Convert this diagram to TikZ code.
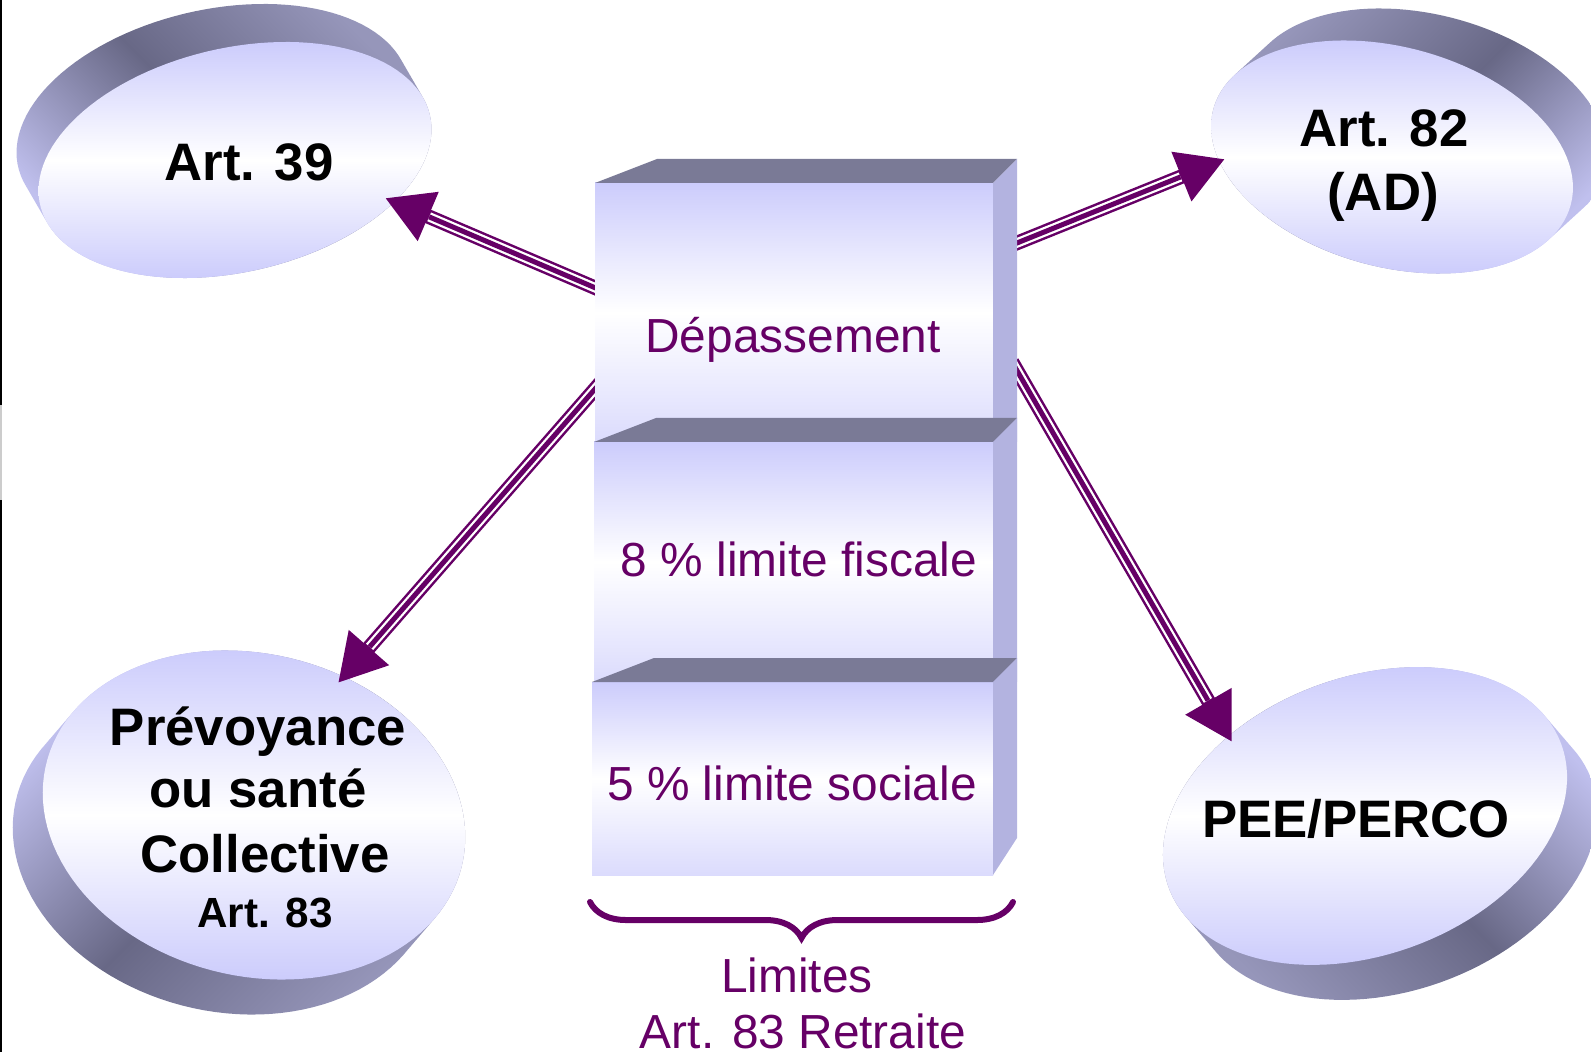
\documentclass[tikz,border=0pt]{standalone}
\usepackage{fontspec}
\setmainfont{Liberation Sans}
\usetikzlibrary{arrows.meta,decorations.pathreplacing}

\definecolor{purp}{RGB}{102,0,102}
\definecolor{lav}{RGB}{204,204,252}
\definecolor{rimdark}{RGB}{104,104,134}
\definecolor{rimmid}{RGB}{150,150,186}
\definecolor{rimlight}{RGB}{192,192,238}
\definecolor{boxtop}{RGB}{122,122,150}
\definecolor{boxside}{RGB}{179,179,224}

\tikzset{
  discface/.style={top color=lav, bottom color=lav, middle color=white},
  boxface/.style={top color=lav, bottom color=lav!70, middle color=white},
  rimA/.style={top color=rimmid, bottom color=rimlight, middle color=rimdark, shading angle=-45},
  rimB/.style={top color=rimmid, bottom color=rimlight, middle color=rimdark, shading angle=45},
  rimC/.style={top color=rimlight, bottom color=rimmid, middle color=rimdark, shading angle=45},
  rimD/.style={top color=rimlight, bottom color=rimmid, middle color=rimdark, shading angle=-45},
  tshaft/.style={purp, line width=0.145cm},
  tgap/.style={white, line width=0.095cm, shorten >=0.48cm},
  tcore/.style={purp, line width=0.05cm, shorten >=0.48cm},
  lbl/.style={inner sep=0pt, anchor=base, font=\fontsize{15}{18}\selectfont\bfseries},
  lblsmall/.style={inner sep=0pt, anchor=base, font=\fontsize{12}{14}\selectfont\bfseries},
  ptxt/.style={inner sep=0pt, anchor=base, text=purp, font=\fontsize{13.6}{16}\selectfont},
}

% ellipse as a plot: centre x, centre y (pixels, downwards), half axes, tilt
\newcommand{\ellpath}[5]{%
  plot[domain=0:360, samples=120]
    ({(#1)+(#3)*cos(\x)*cos(#5)-(#4)*sin(\x)*sin(#5)},
     {-(#2)+(#3)*cos(\x)*sin(#5)+(#4)*sin(\x)*cos(#5)}) -- cycle}
% disc with its rim: centre, half axes, tilt, depth, rim shading
\newcommand{\drawdisc}[8]{%
  \path[#8] \foreach \k in {0,...,12}{ \ellpath{#1+(#6)*\k/12}{#2+(#7)*\k/12}{#3}{#4}{#5} };
  \path[discface] \ellpath{#1}{#2}{#3}{#4}{#5};}
% three-line arrow
\newcommand{\triplearrow}[2]{%
  \draw[tshaft, -{Triangle[length=0.47cm, width=0.5cm]}] (#1) -- (#2);
  \draw[tgap] (#1) -- (#2);
  \draw[tcore] (#1) -- (#2);}

\begin{document}
\begin{tikzpicture}[x=0.01cm, y=0.01cm]
  \useasboundingbox (0,0) rectangle (1591,-1052);
  \clip (0,0) rectangle (1591,-1052);
  \draw[line width=0.02cm] (1,0) -- (1,-405) (1,-500) -- (1,-1052);
  \draw[black!20, line width=0.02cm] (1,-405) -- (1,-500);

  % discs
  \drawdisc{235}{160}{200}{112}{13}{-22}{-38}{rimA}
  \drawdisc{1392}{157}{185}{110}{-15}{35}{-32}{rimB}
  \drawdisc{254}{815}{214}{161}{-14}{-30}{35}{rimC}
  \drawdisc{1365}{816}{209}{139}{20}{30}{35}{rimD}

  % arrows
  \coordinate (s39) at (605,-292);
  \coordinate (t39) at (385,-198);
  \coordinate (s82) at (1007,-247);
  \coordinate (t82) at (1225,-159);
  \coordinate (s83) at (602,-381);
  \coordinate (t83) at (338,-683);
  \coordinate (spee) at (1012,-362);
  \coordinate (tpee) at (1232,-742);
  \triplearrow{s39}{t39}
  \triplearrow{s82}{t82}
  \triplearrow{s83}{t83}
  \triplearrow{spee}{tpee}

  % stacked blocks
  \foreach \t/\b/\l/\sb in {183/442/595/442, 442/682/594/682, 682/875/592/838}{
    \shade[boxface] (\l,-\t) rectangle (993,-\b);
    \fill[boxtop] (\l,-\t) -- (\l+62,-\t+24) -- (1017,-\t+24) -- (993,-\t) -- cycle;
    \fill[boxside] (993,-\t) -- (1017,-\t+24) -- (1017,-\sb) -- (993,-\b) -- cycle;
  }

  % texts
  \node(art39)[lbl] at (249,-181) {Art. 39};
  \node(art82)[lbl] at (1384,-147) {Art. 82};
  \node(ad)[lbl] at (1383,-211) {(AD)};
  \node(prev)[lbl] at (258,-745) {Prévoyance};
  \node(sante)[lbl] at (258,-807) {ou santé};
  \node(coll)[lbl] at (265,-872) {Collective};
  \node(art83)[lblsmall] at (265,-927) {Art. 83};
  \node(pee)[lbl] at (1356,-837) {PEE/PERCO};
  \node(dep)[ptxt] at (793,-353) {Dépassement};
  \node(fisc)[ptxt] at (799,-576) {8 \% limite fiscale};
  \node(soc)[ptxt] at (792,-800) {5 \% limite sociale};
  \node(lim)[ptxt] at (797,-992) {Limites};
  \node(retr)[ptxt] at (803,-1048) {Art. 83 Retraite};

  % brace
  \coordinate (bl) at (590,-902);
  \coordinate (br) at (1013,-902);
  \draw[purp, line width=0.06cm, line cap=round, decorate,
        decoration={brace, mirror, amplitude=0.36cm}] (bl) -- (br);
\end{tikzpicture}
\end{document}
